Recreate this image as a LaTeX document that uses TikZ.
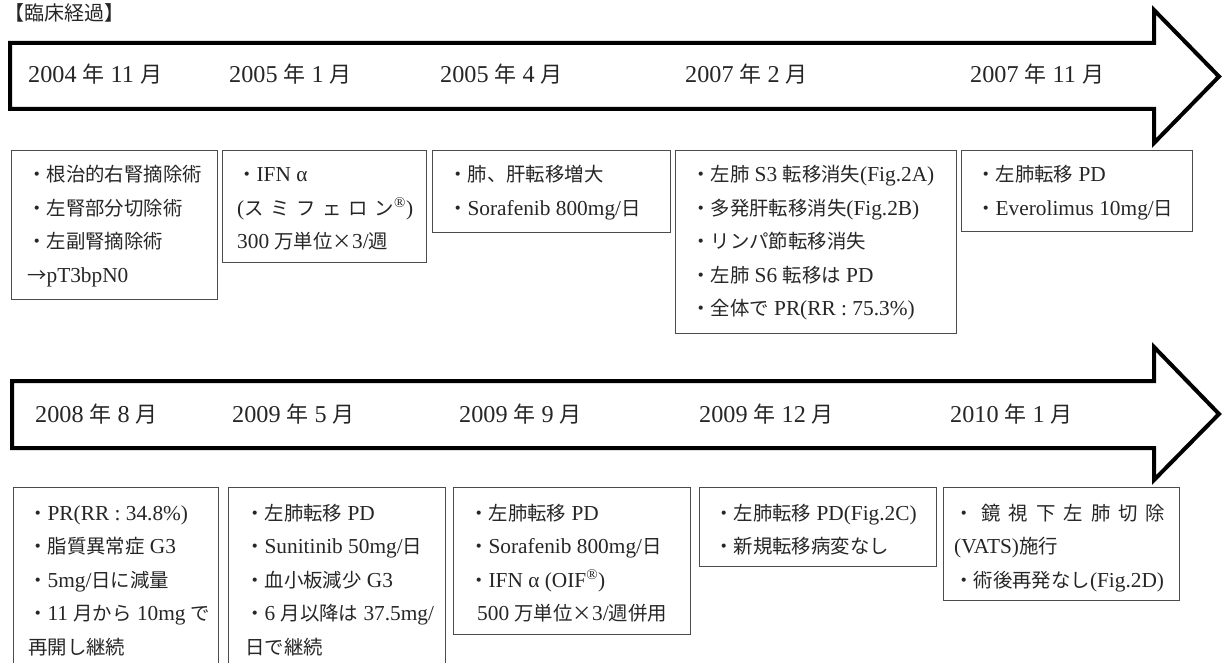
\documentclass[tikz,border=0pt]{standalone}
\usepackage{fontspec}
\setmainfont{Liberation Serif}[Scale=1.1]
\newfontfamily\cjk{Noto Sans CJK JP}
\chardef\cjkclass=7
\newcount\cjkcnt
\cjkcnt="3000
\loop\XeTeXcharclass\cjkcnt=\cjkclass\relax\advance\cjkcnt by 1\relax\ifnum\cjkcnt<"A000\repeat
\cjkcnt="FF00
\loop\XeTeXcharclass\cjkcnt=\cjkclass\relax\advance\cjkcnt by 1\relax\ifnum\cjkcnt<"FFF0\repeat
\cjkcnt="2190
\loop\XeTeXcharclass\cjkcnt=\cjkclass\relax\advance\cjkcnt by 1\relax\ifnum\cjkcnt<"2200\repeat
\XeTeXcharclass"00D7=\cjkclass\relax
\XeTeXinterchartoks 0 \cjkclass={\cjk}
\XeTeXinterchartoks 4095 \cjkclass={\cjk}
\XeTeXinterchartoks \cjkclass 0={\rmfamily}
\XeTeXinterchartoks \cjkclass 4095={\rmfamily}
\XeTeXinterchartokenstate=1
\newcommand\fl{\rule{0pt}{20pt}}
\begin{document}
\begin{tikzpicture}[x=1pt,y=-1pt,
  box/.style={draw=black!70, line width=1.3pt, anchor=north west, inner sep=0pt},
  txt/.style={anchor=north west, inner sep=0pt, align=left, font=\fontsize{19.4}{33.5}\selectfont, text=black!85},
  datelbl/.style={anchor=base west, inner sep=0pt, font=\fontsize{22}{26}\selectfont, text=black!85},
  arr/.style={draw=black, line width=4pt, line join=miter}]
\useasboundingbox (0,0) rectangle (1224,663);
\clip (0,0) rectangle (1224,663);

\node[anchor=base west, inner sep=0pt, font=\fontsize{20}{22}\selectfont, text=black!85] (title) at (4,21) {【臨床経過】};

% arrows
\draw[arr] (10,43) -- (1154,43) -- (1154,10) -- (1219,76.5) -- (1154,143) -- (1154,109) -- (10,109) -- cycle;
\draw[arr] (12,381) -- (1154,381) -- (1154,347) -- (1219,414) -- (1154,480) -- (1154,448) -- (12,448) -- cycle;

% dates row 1
\node[datelbl] (d11) at (28,83) {2004 年 11 月};
\node[datelbl] (d12) at (229,83) {2005 年 1 月};
\node[datelbl] (d13) at (440,83) {2005 年 4 月};
\node[datelbl] (d14) at (685,83) {2007 年 2 月};
\node[datelbl] (d15) at (970,83) {2007 年 11 月};
% dates row 2
\node[datelbl] (d21) at (35,422) {2008 年 8 月};
\node[datelbl] (d22) at (232,422) {2009 年 5 月};
\node[datelbl] (d23) at (459,422) {2009 年 9 月};
\node[datelbl] (d24) at (699,422) {2009 年 12 月};
\node[datelbl] (d25) at (950,422) {2010 年 1 月};

% boxes row 1
\node[box, minimum width=206pt, minimum height=149pt] (r1b1) at (11,150) {};
\node[box, minimum width=204pt, minimum height=112pt] (r1b2) at (222,150) {};
\node[box, minimum width=238pt, minimum height=82pt] (r1b3) at (432,150) {};
\node[box, minimum width=281pt, minimum height=183pt] (r1b4) at (675,150) {};
\node[box, minimum width=231pt, minimum height=81pt] (r1b5) at (961,150) {};
% boxes row 2
\node[box, minimum width=205pt, minimum height=193pt] (r2b1) at (13,487) {};
\node[box, minimum width=217pt, minimum height=193pt] (r2b2) at (228,487) {};
\node[box, minimum width=237pt, minimum height=147pt] (r2b3) at (453,487) {};
\node[box, minimum width=237pt, minimum height=79pt] (r2b4) at (699,487) {};
\node[box, minimum width=236pt, minimum height=113pt] (r2b5) at (943,487) {};

% texts row 1
\node[txt] (r1t1) at (27,161.5) {\fl・根治的右腎摘除術\\・左腎部分切除術\\・左副腎摘除術\\→pT3bpN0};
\node[txt] (r1t2) at (237,161.5) {\fl・IFN α\\\makebox[176pt][s]{(ス ミ フ ェ ロ ン\textsuperscript{®})}\\300 万単位×3/週};
\node[txt] (r1t3) at (448,161.5) {\fl・肺、肝転移増大\\・Sorafenib 800mg/日};
\node[txt] (r1t4) at (691,161.5) {\fl・左肺 S3 転移消失(Fig.2A)\\・多発肝転移消失(Fig.2B)\\・リンパ節転移消失\\・左肺 S6 転移は PD\\・全体で PR(RR : 75.3\%)};
\node[txt] (r1t5) at (976,161.5) {\fl・左肺転移 PD\\・Everolimus 10mg/日};
% texts row 2
\node[txt] (r2t1) at (28,500) {\fl・PR(RR : 34.8\%)\\・脂質異常症 G3\\・5mg/日に減量\\・11 月から 10mg で\\再開し継続};
\node[txt] (r2t2) at (245,500) {\fl・左肺転移 PD\\・Sunitinib 50mg/日\\・血小板減少 G3\\・6 月以降は 37.5mg/\\日で継続};
\node[txt] (r2t3) at (469,500) {\fl・左肺転移 PD\\・Sorafenib 800mg/日\\・IFN α (OIF\textsuperscript{®})\\\hspace*{8pt}500 万単位×3/週併用};
\node[txt] (r2t4) at (714,500) {\fl・左肺転移 PD(Fig.2C)\\・新規転移病変なし};
\node[txt] (r2t5) at (954,500) {\fl\makebox[211pt][s]{・ 鏡 視 下 左 肺 切 除}\\(VATS)施行\\・術後再発なし(Fig.2D)};
\end{tikzpicture}
\end{document}
